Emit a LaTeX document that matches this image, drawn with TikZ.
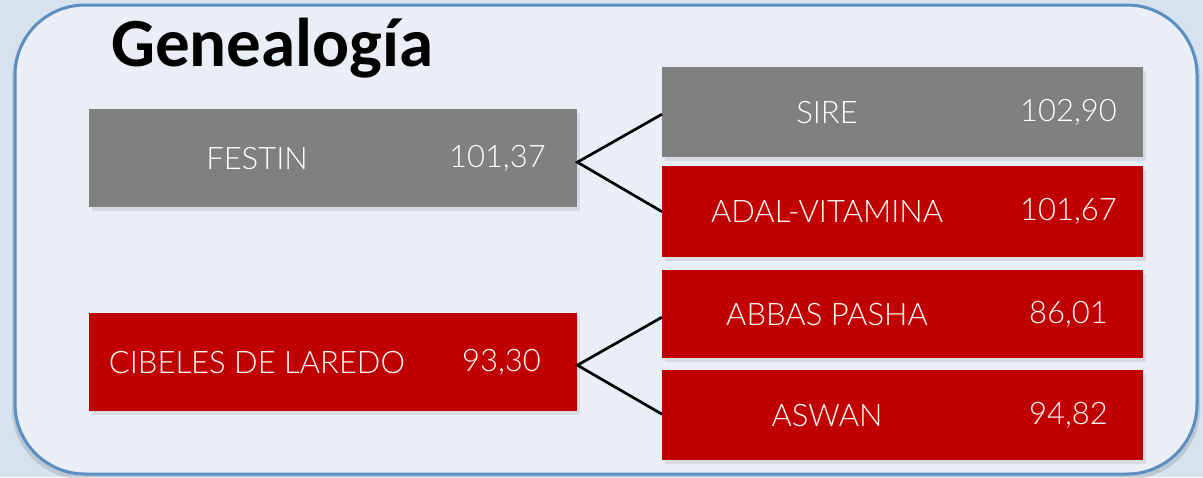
\documentclass[tikz,border=0pt]{standalone}
\usepackage{fontspec}
\setmainfont{Lato}
\newfontfamily\titlefont{Carlito}
\newfontfamily\boxfont{Lato Light}
\usetikzlibrary{shadows}
\definecolor{outerbg}{HTML}{D6E3EE}
\definecolor{panelbg}{HTML}{EAEFF7}
\definecolor{panelline}{HTML}{5B8EC1}
\definecolor{greybox}{HTML}{808080}
\definecolor{redbox}{HTML}{C00000}
\tikzset{
  boxstyle/.style={draw=none, minimum height=#1, inner sep=0pt, anchor=north west,
    drop shadow={opacity=0.18, shadow xshift=3pt, shadow yshift=-4pt}},
  lefttext/.style={text=white, font=\boxfont\fontsize{31}{36}\selectfont, inner sep=0pt},
  conn/.style={line width=2.7pt, black}
}
\begin{document}
\begin{tikzpicture}[x=1pt,y=-1pt]
\useasboundingbox (0,0) rectangle (1203,477);
\fill[outerbg] (0,0) rectangle (1203,477);
\fill[black, opacity=0.12, rounded corners=70pt] (12,9) rectangle (1200,479);
\draw[panelline, line width=3pt, fill=panelbg, rounded corners=70pt] (15,5) rectangle (1197,474);
\node[anchor=base west, inner sep=0pt, font=\titlefont\bfseries\fontsize{69}{72}\selectfont] (title) at (111,66) {Genealogía};
% left boxes
\node[boxstyle=98pt, fill=greybox, minimum width=488pt] (festin) at (89,109) {};
\node[boxstyle=98pt, fill=redbox, minimum width=488pt] (cibeles) at (89,313) {};
% right boxes
\node[boxstyle=90pt, fill=greybox, minimum width=481pt] (sire) at (662,67) {};
\node[boxstyle=91pt, fill=redbox, minimum width=481pt] (adal) at (662,166) {};
\node[boxstyle=88pt, fill=redbox, minimum width=481pt] (abbas) at (662,270) {};
\node[boxstyle=90pt, fill=redbox, minimum width=481pt] (aswan) at (662,370) {};
% texts
\node[lefttext] (t1) at ([xshift=168pt]festin.west) {FESTIN};
\node[lefttext] (v1) at ([xshift=-80pt]festin.east) {101,37};
\node[lefttext] (t2) at ([xshift=168pt]cibeles.west) {CIBELES DE LAREDO};
\node[lefttext] (v2) at ([xshift=-76pt]cibeles.east) {93,30};
\node[lefttext] (t3) at ([xshift=165pt]sire.west) {SIRE};
\node[lefttext] (v3) at ([xshift=-75pt]sire.east) {102,90};
\node[lefttext] (t4) at ([xshift=165pt]adal.west) {ADAL-VITAMINA};
\node[lefttext] (v4) at ([xshift=-75pt]adal.east) {101,67};
\node[lefttext] (t5) at ([xshift=165pt]abbas.west) {ABBAS PASHA};
\node[lefttext] (v5) at ([xshift=-75pt]abbas.east) {86,01};
\node[lefttext] (t6) at ([xshift=165pt]aswan.west) {ASWAN};
\node[lefttext] (v6) at ([xshift=-75pt]aswan.east) {94,82};
% connectors
\coordinate (fj) at ([yshift=-4pt]festin.east);
\coordinate (cj) at ([yshift=-3pt]cibeles.east);
\draw[conn] ([yshift=-2pt]sire.west) -- (fj) -- (adal.west);
\draw[conn] ([yshift=-3pt]abbas.west) -- (cj) -- ([yshift=1pt]aswan.west);
\end{tikzpicture}
\end{document}
